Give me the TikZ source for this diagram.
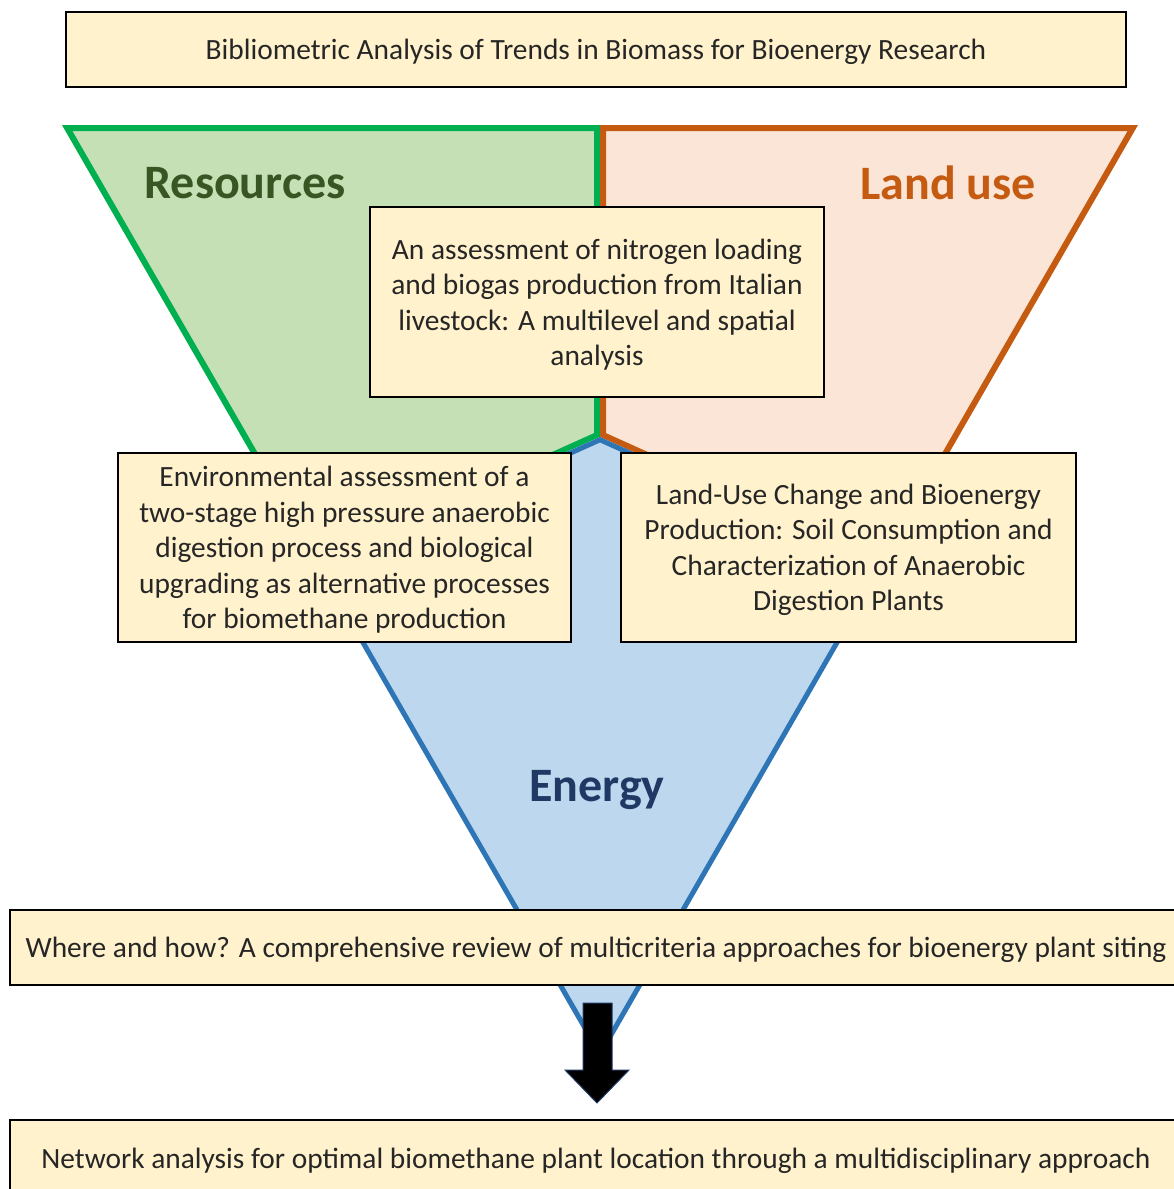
\documentclass[tikz,border=0pt]{standalone}
\usepackage{fontspec}
\setmainfont{Carlito}
\definecolor{boxfill}{HTML}{FFF2CC}
\definecolor{gfill}{HTML}{C5E0B4}
\definecolor{gline}{HTML}{00B050}
\definecolor{gtext}{HTML}{375623}
\definecolor{ofill}{HTML}{FBE5D6}
\definecolor{oline}{HTML}{C55A11}
\definecolor{bfill}{HTML}{BDD7EE}
\definecolor{bline}{HTML}{2E75B6}
\definecolor{btext}{HTML}{1F3864}
\definecolor{txt}{HTML}{262626}
\tikzset{
  paper/.style={draw=black, line width=2pt, fill=boxfill, inner sep=0pt},
  ptext/.style={text=txt, align=center, inner sep=0pt, yshift=-2.5pt,
    font=\fontsize{29.4}{35.5}\selectfont},
  biglabel/.style={font=\fontsize{48}{54}\selectfont\bfseries, inner sep=0pt}
}
\begin{document}
\begin{tikzpicture}[x=1pt,y=-1pt]
\useasboundingbox (0,0) rectangle (1173,1189);
\coordinate (TL) at (62,125);
\coordinate (TM) at (600,125);
\coordinate (TR) at (1138,125);
\coordinate (A) at (600,1059);
\coordinate (P) at (600,437);
\coordinate (CL) at (315.5,565);
\coordinate (CR) at (884.5,565);
% Resources (green)
\begin{scope}
  \clip (TL) -- (TM) -- (P) -- (CL) -- cycle;
  \fill[gfill] (TL) -- (TM) -- (P) -- (CL) -- cycle;
  \draw[gline, line width=12pt, line join=miter] (TL) -- (TM) -- (P) -- (CL) -- cycle;
\end{scope}
% Land use (orange)
\begin{scope}
  \clip (TM) -- (TR) -- (CR) -- (P) -- cycle;
  \fill[ofill] (TM) -- (TR) -- (CR) -- (P) -- cycle;
  \draw[oline, line width=12pt, line join=miter] (TM) -- (TR) -- (CR) -- (P) -- cycle;
\end{scope}
% Energy (blue)
\begin{scope}
  \clip (P) -- (CR) -- (A) -- (CL) -- cycle;
  \fill[bfill] (P) -- (CR) -- (A) -- (CL) -- cycle;
  \draw[bline, line width=10pt, line join=miter] (P) -- (CR) -- (A) -- (CL) -- cycle;
\end{scope}
% labels
\node[biglabel, text=gtext] (res) at (245,183) {Resources};
\node[biglabel, text=oline] (land) at (948,183) {Land use};
\node[biglabel, text=btext] (energy) at (597,790) {Energy};
% boxes
\node[paper, minimum width=1060pt, minimum height=75pt] (title) at (596,49.5) {};
\node[ptext] (titleT) at (title.center)
  {Bibliometric Analysis of Trends in Biomass for Bioenergy Research};
\node[paper, minimum width=454pt, minimum height=190pt] (nitro) at (597,302) {};
\node[ptext] (nitroT) at (nitro.center)
  {An assessment of nitrogen loading\\and biogas production from Italian\\livestock: A multilevel and spatial\\analysis};
\node[paper, minimum width=453pt, minimum height=189pt] (env) at (344.5,547.5) {};
\node[ptext] (envT) at (env.center)
  {Environmental assessment of a\\two-stage high pressure anaerobic\\digestion process and biological\\upgrading as alternative processes\\for biomethane production};
\node[paper, minimum width=455pt, minimum height=189pt] (luc) at (848.5,547.5) {};
\node[ptext] (lucT) at (luc.center)
  {Land-Use Change and Bioenergy\\Production: Soil Consumption and\\Characterization of Anaerobic\\Digestion Plants};
\node[paper, minimum width=1172pt, minimum height=75pt] (where) at (596,947.5) {};
\node[ptext] (whereT) at (where.center)
  {Where and how? A comprehensive review of multicriteria approaches for bioenergy plant siting};
\node[paper, minimum width=1172pt, minimum height=80pt] (net) at (596,1160) {};
\node[ptext, yshift=2pt] (netT) at (net.center)
  {Network analysis for optimal biomethane plant location through a multidisciplinary approach};
% block arrow
\draw[fill=black, draw=btext, line width=1pt, line join=miter]
  (583,1003) -- (612,1003) -- (612,1070) -- (629,1070) -- (597,1103) -- (565,1070) -- (583,1070) -- cycle;
\end{tikzpicture}
\end{document}
